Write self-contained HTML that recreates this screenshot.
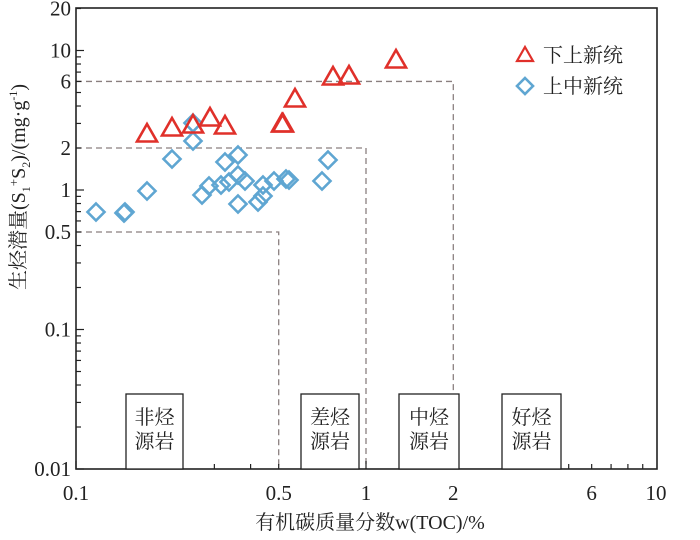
<!DOCTYPE html>
<html><head><meta charset="utf-8"><style>
html,body{margin:0;padding:0;background:#fff;}
svg{display:block;}
.t{font-family:"Liberation Serif","Noto Serif CJK SC",serif;font-size:21px;fill:#222;}
.c{font-family:"Liberation Serif","Noto Serif CJK SC",serif;font-size:20px;fill:#222;}
</style></head><body>
<svg width="700" height="540" xmlns="http://www.w3.org/2000/svg">
<g id="g"></g>
</svg>
<script>
const NS="http://www.w3.org/2000/svg",g=document.getElementById('g');
function el(t,a,txt){const e=document.createElementNS(NS,t);for(const k in a)e.setAttribute(k,a[k]);if(txt!==undefined)e.textContent=txt;g.appendChild(e);return e;}
const X=v=>76+290*(Math.log10(v)+1), Y=v=>190-139.5*Math.log10(v);
const L=76,R=657,T=8,B=469;
const ds={stroke:'#8a7f7f','stroke-width':1.3,'stroke-dasharray':'6,4',fill:'none'};
el('polyline',Object.assign({points:`${L},${Y(0.5)} ${X(0.5)},${Y(0.5)} ${X(0.5)},${B}`},ds));
el('polyline',Object.assign({points:`${L},${Y(2)} ${X(1)},${Y(2)} ${X(1)},${B}`},ds));
el('polyline',Object.assign({points:`${L},${Y(6)} ${X(2)},${Y(6)} ${X(2)},${B}`},ds));
el('rect',{x:L,y:T,width:R-L,height:B-T,fill:'none',stroke:'#222','stroke-width':1.6});
for(let d=-2;d<=1;d++)for(let m=1;m<=9;m++){const v=m*Math.pow(10,d);if(v>20)break;const y=Y(v);el('line',{x1:L,x2:L+(m==1?8:5),y1:y,y2:y,stroke:'#222','stroke-width':1.2});}
el('line',{x1:L,x2:L+5,y1:Y(20),y2:Y(20),stroke:'#222'});
for(let d=-1;d<=0;d++)for(let m=1;m<=9;m++){const v=m*Math.pow(10,d);const x=X(v);el('line',{x1:x,x2:x,y1:B,y2:B-(m==1?8:5),stroke:'#222','stroke-width':1.2});}
[[20,'20'],[10,'10'],[6,'6'],[2,'2'],[1,'1'],[0.5,'0.5'],[0.1,'0.1'],[0.01,'0.01']].forEach(([v,s])=>el('text',{x:L-5,y:Y(v)+7,'text-anchor':'end',class:'t'},s));
[[0.1,'0.1'],[0.5,'0.5'],[1,'1'],[2,'2'],[6,'6'],[10,'10']].forEach(([v,s])=>el('text',{x:X(v),y:500,'text-anchor':'middle',class:'t'},s));
[[126,183,'非烃'],[301,359,'差烃'],[399,459,'中烃'],[502,561,'好烃']].forEach(([a,b,s])=>{
el('rect',{x:a,y:394,width:b-a,height:B-394,fill:'#fff',stroke:'#222','stroke-width':1.3});
el('text',{x:(a+b)/2,y:424,'text-anchor':'middle',class:'c'},s);
el('text',{x:(a+b)/2,y:448,'text-anchor':'middle',class:'c'},'源岩');});
const tri=[[147,132],[172,126],[193,123],[210,116],[225,124],[282,122],[283,122],[295,97],[333,75],[349,74],[396,58]];
const dia=[[96,212],[124,213],[125,212],[147,191],[172,159],[193,123],[193,141],[202,195],[209,186],[221,185],[225,162],[229,182],[238,155],[238,175],[238,204],[245,181],[258,202],[263,196],[263,185],[274,181],[286,179],[289,180],[322,181],[328,160]];
function D(x,y,r){el('polygon',{points:`${x},${y-r} ${x+r},${y} ${x},${y+r} ${x-r},${y}`,fill:'none',stroke:'#5fa6d2','stroke-width':2.6});}
function Tr(x,y,r,w){el('polygon',{points:`${x},${y-r} ${x+r*1.0},${y+r*0.75} ${x-r*1.0},${y+r*0.75}`,fill:'none',stroke:'#e0302a','stroke-width':w||2.6});}
dia.forEach(p=>D(p[0],p[1],8.5));
tri.forEach(p=>Tr(p[0],p[1]+2,10));
Tr(525,55,8,2.2);D(525,86,8);
el('text',{x:543,y:62,class:'c'},'下上新统');
el('text',{x:543,y:93,class:'c'},'上中新统');
el('text',{x:370,y:529,'text-anchor':'middle',class:'c'},'有机碳质量分数w(TOC)/%');
const yl=el('text',{x:0,y:0,'text-anchor':'middle',class:'c',transform:'translate(25,187) rotate(-90)'});
yl.innerHTML='生烃潜量(S<tspan font-size="12" dy="5">1</tspan><tspan dy="-12" font-size="13">+</tspan><tspan dy="7">S</tspan><tspan font-size="12" dy="5">2</tspan><tspan dy="-5">)/(mg·g</tspan><tspan font-size="12" dy="-8">-1</tspan><tspan dy="8">)</tspan>';
</script>
</body></html>
